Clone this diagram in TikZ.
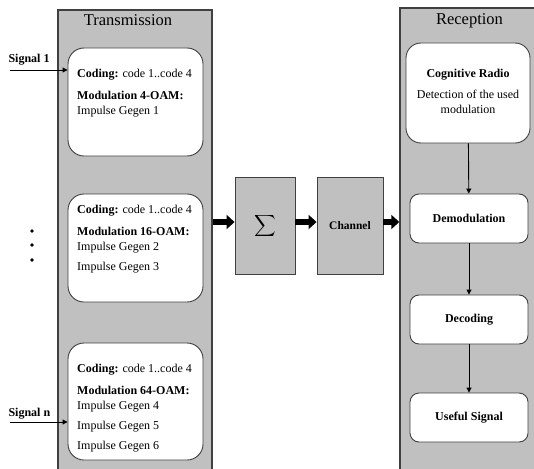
\documentclass[tikz,border=0pt]{standalone}
\usepackage{fontspec}
\setmainfont{Liberation Serif}
\usetikzlibrary{arrows.meta}
\definecolor{panelgray}{RGB}{192,192,192}
\definecolor{edgegray}{RGB}{64,64,64}
\tikzset{
	panel/.style={draw=edgegray, line width=1.4pt, fill=panelgray, inner sep=0pt},
	stagebox/.style={draw=edgegray, line width=0.9pt, fill=panelgray, inner sep=0pt},
	txbox/.style={draw=edgegray, line width=0.9pt, fill=white, rounded corners=16pt, minimum width=135pt, inner sep=0pt},
	rxbox/.style={draw=edgegray, line width=0.9pt, fill=white, rounded corners=9pt, minimum width=118pt, minimum height=49pt, font=\fontsize{12}{15}\selectfont\bfseries},
	bodytext/.style={inner sep=0pt, align=left, font=\fontsize{12}{15}\selectfont},
	titletext/.style={anchor=base, font=\fontsize{16.5}{18}\selectfont},
	bigarrow/.style={line width=6pt, -{Triangle[length=8pt,width=14pt]}},
	sigarrow/.style={line width=0.9pt, -{Triangle[length=5pt,width=5pt]}}
}
\begin{document}
\begin{tikzpicture}[x=1pt,y=-1pt,font=\fontsize{12}{15}\selectfont]
		%%%%% START %%%%%
		\useasboundingbox (0,0) rectangle (534,468);
		
		% transmission side
		\node[panel, minimum width=154pt, minimum height=460pt] (tx) at (135,240) {};
		\node[titletext] (txtitle) at (128,26) {Transmission};
		
		\node[txbox, minimum height=108pt] (b1) at (135.5,102) {};
		\node[bodytext, anchor=north west] (t1) at (77,69) {\textbf{Coding:} code 1..code 4\\[7pt]
			\textbf{Modulation 4-OAM:}\\
			Impulse Gegen 1};
		
		\node[txbox, minimum height=108pt] (b2) at (135.5,248) {};
		\node[bodytext, anchor=north west] (t2) at (77,205) {\textbf{Coding:} code 1..code 4\\[7pt]
			\textbf{Modulation 16-OAM:}\\
			Impulse Gegen 2\\[5pt]
			Impulse Gegen 3};
		
		\node[txbox, minimum height=117pt] (b3) at (135.5,401.5) {};
		\node[bodytext, anchor=north west] (t3) at (77,364) {\textbf{Coding:} code 1..code 4\\[7pt]
			\textbf{Modulation 64-OAM:}\\
			Impulse Gegen 4\\[5pt]
			Impulse Gegen 5\\[5pt]
			Impulse Gegen 6};
		
		% inputs
		\node[anchor=base west, font=\fontsize{12}{15}\selectfont\bfseries] (sig1) at (5,63) {Signal 1};
		\coordinate (in1) at (10,70);
		\draw[sigarrow] (in1) -- (in1 -| b1.west);
		
		\node[anchor=base west, font=\fontsize{12}{15}\selectfont\bfseries] (sign) at (5,416) {Signal n};
		\coordinate (inn) at (10,422);
		\draw[sigarrow] (inn) -- (inn -| b3.west);
		
		\foreach \y in {231,245,260}
			\fill (32,\y) circle (1.8pt);
		
		% sum and channel
		\node[stagebox, minimum width=60pt, minimum height=97pt] (sum) at (265,225.5) {\scalebox{1.5}{$\displaystyle\sum$}};
		\node[stagebox, minimum width=66pt, minimum height=97pt, font=\fontsize{11.5}{13}\selectfont\bfseries] (chan) at (350,225.5) {Channel};
		
		% reception side
		\node[panel, minimum width=140pt, minimum height=462pt] (rx) at (470,239) {};
		\node[titletext] (rxtitle) at (469.5,25) {Reception};
		
		\node[rxbox, rounded corners=15pt, minimum width=124pt, minimum height=100pt] (cr) at (468,93) {};
		\node[bodytext, align=center, anchor=north] (crtext) at (468,69) {\textbf{Cognitive Radio}\\[6pt]
			Detection of the used\\
			modulation};
		\node[rxbox] (demod) at (469,218.5) {Demodulation};
		\node[rxbox] (dec) at (469,319.5) {Decoding};
		\node[rxbox] (out) at (469,417.5) {Useful Signal};
		
		\draw[sigarrow] (cr) -- (demod);
		\draw[sigarrow] (demod) -- (dec);
		\draw[sigarrow] (dec) -- (out);
		
		% main path
		\coordinate (bus) at (0,222);
		\draw[bigarrow] (tx.east |- bus) -- (sum.west |- bus);
		\draw[bigarrow] (sum.east |- bus) -- (chan.west |- bus);
		\draw[bigarrow] (chan.east |- bus) -- (rx.west |- bus);
		%%%%% END %%%%%
	\end{tikzpicture}
\end{document}
